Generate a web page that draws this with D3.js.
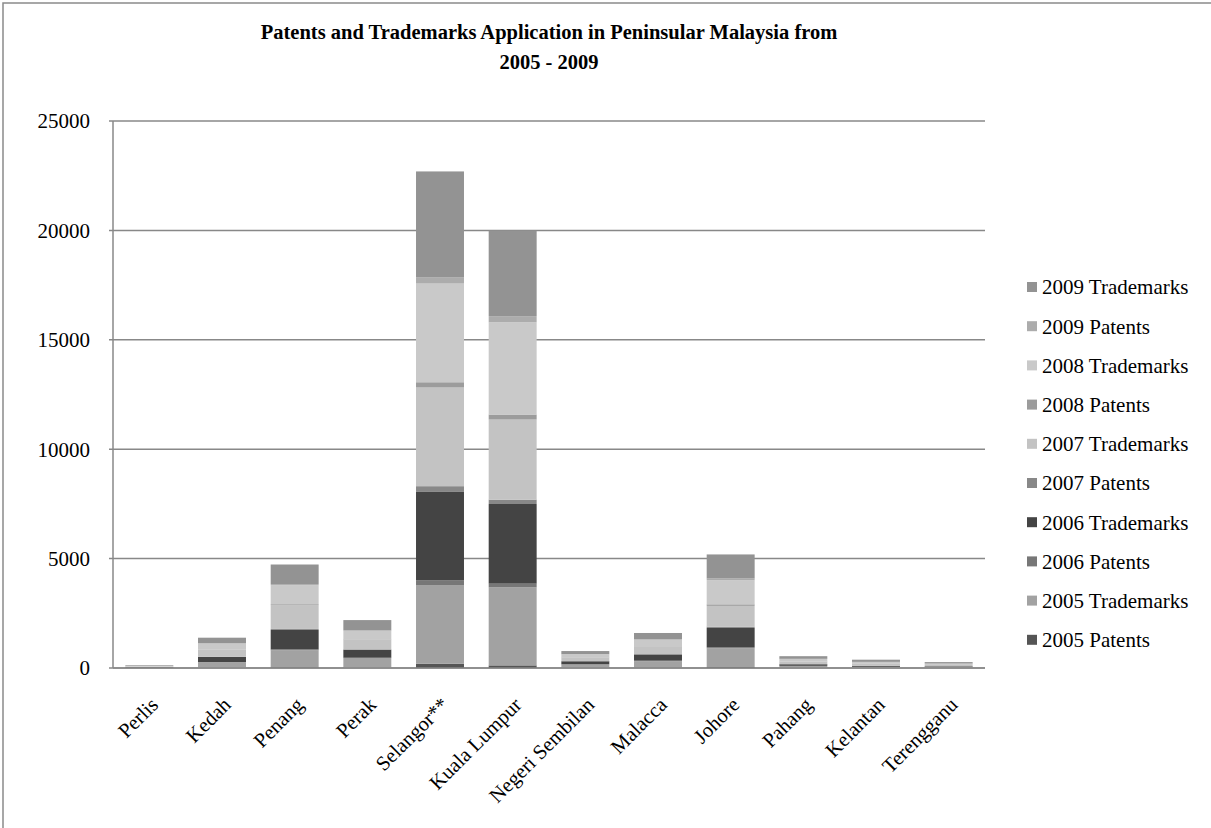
<!DOCTYPE html>
<html>
<head>
<meta charset="utf-8">
<script src="https://cdn.jsdelivr.net/npm/d3@7"></script>
<style>
  body { margin: 0; background: #fff; }
  svg { display: block; font-family: "Liberation Serif", "Times New Roman", serif; }
</style>
</head>
<body>
<svg width="1211" height="828"></svg>
<script>
const states = ["Perlis", "Kedah", "Penang", "Perak", "Selangor**", "Kuala Lumpur",
  "Negeri Sembilan", "Malacca", "Johore", "Pahang", "Kelantan", "Terengganu"];

// series, bottom to top of each stack
const seriesNames = ["2005 Patents", "2005 Trademarks", "2006 Patents", "2006 Trademarks",
  "2007 Patents", "2007 Trademarks", "2008 Patents", "2008 Trademarks", "2009 Patents", "2009 Trademarks"];
const seriesColors = ["#555555", "#a2a2a2", "#777777", "#444444",
  "#888888", "#c3c3c3", "#9c9c9c", "#c9c9c9", "#acacac", "#939393"];

const patents2005    = [2, 10, 30, 15, 200, 120, 15, 20, 40, 10, 5, 5];
const trademarks2005 = [20, 250, 780, 440, 3570, 3565, 140, 290, 860, 80, 45, 35];
const patents2006    = [2, 10, 40, 15, 230, 170, 15, 25, 50, 10, 5, 5];
const trademarks2006 = [20, 235, 890, 365, 4070, 3640, 135, 280, 880, 70, 45, 30];
const patents2007    = [3, 15, 45, 20, 240, 200, 15, 25, 60, 10, 5, 5];
const trademarks2007 = [22, 305, 1085, 435, 4510, 3660, 155, 320, 950, 110, 80, 55];
const patents2008    = [3, 15, 45, 20, 240, 230, 15, 25, 70, 10, 5, 5];
const trademarks2008 = [25, 275, 870, 390, 4510, 4220, 130, 305, 1100, 110, 85, 60];
const patents2009    = [3, 15, 50, 20, 275, 275, 15, 30, 80, 10, 5, 5];
const trademarks2009 = [30, 255, 895, 470, 4850, 3915, 140, 280, 1100, 120, 100, 65];

const seriesValues = [patents2005, trademarks2005, patents2006, trademarks2006, patents2007,
  trademarks2007, patents2008, trademarks2008, patents2009, trademarks2009];

const yTicks = [0, 5000, 10000, 15000, 20000, 25000];
const titleLines = ["Patents and Trademarks Application in Peninsular Malaysia from", "2005 - 2009"];

const svg = d3.select("svg");
const margin = {left: 113, right: 226, top: 121, bottom: 160};
const width = 1211, height = 828;

// outer chart border
svg.append("rect")
  .attr("x", 3).attr("y", 3)
  .attr("width", 1230).attr("height", 850)
  .attr("fill", "none").attr("stroke", "#8a8a8a").attr("stroke-width", 1.5);

// title
svg.append("g").selectAll("text")
  .data(titleLines)
  .enter().append("text")
  .attr("x", 549)
  .attr("y", (d, i) => 39 + i * 30)
  .attr("text-anchor", "middle")
  .attr("font-weight", "bold")
  .attr("font-size", 20.5)
  .text(d => d);

const x = d3.scaleBand()
  .domain(states)
  .range([margin.left, width - margin.right])
  .paddingInner(0.34)
  .paddingOuter(0.17);

const y = d3.scaleLinear()
  .domain([0, 25000])
  .range([height - margin.bottom, margin.top]);

// gridlines
svg.append("g").selectAll("line")
  .data(yTicks)
  .enter().append("line")
  .attr("x1", margin.left - 4)
  .attr("x2", width - margin.right)
  .attr("y1", d => y(d)).attr("y2", d => y(d))
  .attr("stroke", "#888").attr("stroke-width", 1.5);

// y axis line
svg.append("line")
  .attr("x1", margin.left).attr("x2", margin.left)
  .attr("y1", y(25000)).attr("y2", y(0))
  .attr("stroke", "#888").attr("stroke-width", 1.5);

// y tick labels
svg.append("g").selectAll("text")
  .data(yTicks)
  .enter().append("text")
  .attr("x", 90)
  .attr("y", d => y(d))
  .attr("dy", "0.35em")
  .attr("text-anchor", "end")
  .attr("font-size", 21)
  .text(d => d);

// stacked bars
const rows = states.map((s, i) => {
  const r = {state: s};
  seriesNames.forEach((n, k) => r[n] = seriesValues[k][i]);
  return r;
});
const stacked = d3.stack().keys(seriesNames)(rows);

svg.append("g").selectAll("g")
  .data(stacked)
  .enter().append("g")
  .attr("fill", (d, k) => seriesColors[k])
  .selectAll("rect")
  .data(d => d)
  .enter().append("rect")
  .attr("x", d => x(d.data.state))
  .attr("width", x.bandwidth())
  .attr("y", d => y(d[1]))
  .attr("height", d => y(d[0]) - y(d[1]));

// baseline drawn again over bars
svg.append("line")
  .attr("x1", margin.left).attr("x2", width - margin.right)
  .attr("y1", y(0)).attr("y2", y(0))
  .attr("stroke", "#888").attr("stroke-width", 1.5);

// x labels rotated
svg.append("g").selectAll("text")
  .data(states)
  .enter().append("text")
  .attr("transform", d => `translate(${x(d) + x.bandwidth() / 2 + 5},${y(0) + 33}) rotate(-45)`)
  .attr("text-anchor", "end")
  .attr("dy", "0.35em")
  .attr("font-size", 20.5)
  .text(d => d);

// legend, top item is last series
const legendItems = seriesNames.map((n, k) => ({name: n, color: seriesColors[k]})).reverse();
const legend = svg.append("g").selectAll("g")
  .data(legendItems)
  .enter().append("g")
  .attr("transform", (d, i) => `translate(1027,${287 + i * 39.2})`);
legend.append("rect")
  .attr("x", 0).attr("y", -5)
  .attr("width", 10).attr("height", 10)
  .attr("fill", d => d.color);
legend.append("text")
  .attr("x", 15)
  .attr("dy", "0.35em")
  .attr("font-size", 21)
  .text(d => d.name);
</script>
</body>
</html>
